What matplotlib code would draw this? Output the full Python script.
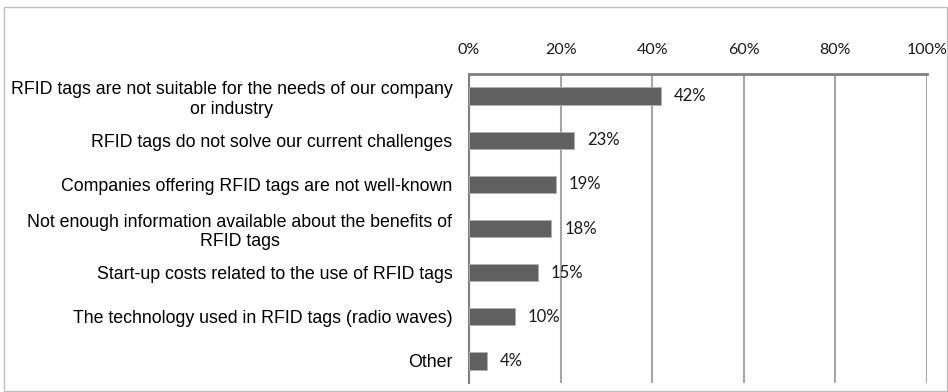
import matplotlib.pyplot as plt
import numpy as np

categories = [
    'RFID tags are not suitable for the needs of our company\nor industry',
    'RFID tags do not solve our current challenges',
    'Companies offering RFID tags are not well-known',
    'Not enough information available about the benefits of\nRFID tags',
    'Start-up costs related to the use of RFID tags',
    'The technology used in RFID tags (radio waves)',
    'Other',
]
values = [42, 23, 19, 18, 15, 10, 4]
ticks = [0, 20, 40, 60, 80, 100]

fig = plt.figure(figsize=(9.48, 3.92), dpi=100)
ax = fig.add_axes([469/948, 1 - 383/392, (927-469)/948, (383-74)/392])

y = np.arange(len(categories))
ax.barh(y, values, height=0.39, color='#606060', edgecolor='#b0b0b0', linewidth=0.6, zorder=3)
ax.set_ylim(len(categories) - 0.5, -0.5)
ax.set_xlim(0, 100)

for yi, v in zip(y, values):
    ax.text(v + 2.8, yi, f'{v}%', va='center', ha='left', fontsize=12,
            family='Lato', color='#1a1a1a', zorder=4)

ax.xaxis.tick_top()
ax.set_xticks(ticks)
ax.set_xticklabels([f'{t}%' for t in ticks], fontsize=11.5, family='Lato', color='#1a1a1a')
ax.tick_params(axis='x', length=0, pad=12)
ax.set_yticks(y)
ax.set_yticklabels(categories, fontsize=12.8, family='Liberation Sans',
                   multialignment='center', linespacing=1.2)
ax.tick_params(axis='y', length=0, pad=12)

ax.grid(axis='x', color='#a6a6a6', linewidth=1.5, zorder=0)
for s in ['right', 'bottom']:
    ax.spines[s].set_visible(False)
ax.spines['top'].set_color('#808080')
ax.spines['top'].set_linewidth(2)
ax.spines['left'].set_color('#808080')
ax.spines['left'].set_linewidth(1.5)

# outer frame around the whole chart
fig.patches.append(plt.Rectangle((4/948, 1/392), 943/948, 384/392, transform=fig.transFigure,
                                 fill=False, edgecolor='#bfbfbf', linewidth=1))

fig.savefig('out.png', dpi=100)
